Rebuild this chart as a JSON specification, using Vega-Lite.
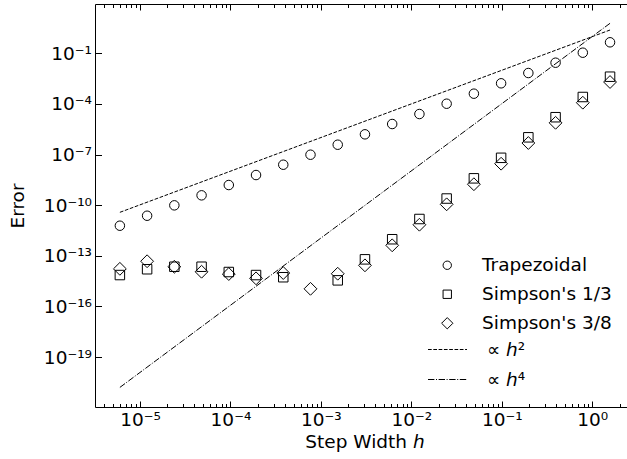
{
  "$schema": "https://vega.github.io/schema/vega-lite/v6.json",
  "width": 532,
  "height": 403,
  "autosize": {"type": "none"},
  "padding": {"left": 95, "top": 4, "right": 0, "bottom": 52},
  "background": "white",
  "config": {
    "font": "DejaVu Sans",
    "view": {"stroke": null},
    "axis": {
      "grid": false,
      "domainColor": "black",
      "domainWidth": 1,
      "tickColor": "black",
      "tickWidth": 1,
      "labelColor": "black",
      "labelFont": "DejaVu Sans",
      "labelFontSize": 18.5,
      "titleColor": "black",
      "titleFont": "DejaVu Sans",
      "titleFontSize": 18.5,
      "titleFontWeight": "normal",
      "labelFlush": false,
      "labelOverlap": false
    },
    "legend": {
      "labelFont": "DejaVu Sans",
      "labelFontSize": 18.5,
      "labelColor": "black",
      "padding": 0
    }
  },
  "layer": [
    {
      "data": {
        "values": [
          {"h": 1.570796, "err": 0.449, "method": "Trapezoidal"},
          {"h": 0.785398, "err": 0.1086, "method": "Trapezoidal"},
          {"h": 0.392699, "err": 0.0277, "method": "Trapezoidal"},
          {"h": 0.19635, "err": 0.00679, "method": "Trapezoidal"},
          {"h": 0.0981748, "err": 0.001667, "method": "Trapezoidal"},
          {"h": 0.0490874, "err": 0.000404, "method": "Trapezoidal"},
          {"h": 0.0245437, "err": 0.0001028, "method": "Trapezoidal"},
          {"h": 0.0122718, "err": 2.52e-5, "method": "Trapezoidal"},
          {"h": 0.00613592, "err": 6.44e-6, "method": "Trapezoidal"},
          {"h": 0.00306796, "err": 1.578e-6, "method": "Trapezoidal"},
          {"h": 0.00153398, "err": 3.82e-7, "method": "Trapezoidal"},
          {"h": 0.00076699, "err": 9.75e-8, "method": "Trapezoidal"},
          {"h": 0.000383495, "err": 2.49e-8, "method": "Trapezoidal"},
          {"h": 0.000191748, "err": 6.1e-9, "method": "Trapezoidal"},
          {"h": 9.58738e-5, "err": 1.56e-9, "method": "Trapezoidal"},
          {"h": 4.79369e-5, "err": 3.82e-10, "method": "Trapezoidal"},
          {"h": 2.39684e-5, "err": 9.75e-11, "method": "Trapezoidal"},
          {"h": 1.19842e-5, "err": 2.36e-11, "method": "Trapezoidal"},
          {"h": 5.99211e-6, "err": 6.04e-12, "method": "Trapezoidal"},
          {"h": 1.570796, "err": 0.0041, "method": "Simpson's 1/3"},
          {"h": 0.785398, "err": 0.000257, "method": "Simpson's 1/3"},
          {"h": 0.392699, "err": 1.63e-5, "method": "Simpson's 1/3"},
          {"h": 0.19635, "err": 1.05e-6, "method": "Simpson's 1/3"},
          {"h": 0.0981748, "err": 6.4e-8, "method": "Simpson's 1/3"},
          {"h": 0.0490874, "err": 3.89e-9, "method": "Simpson's 1/3"},
          {"h": 0.0245437, "err": 2.47e-10, "method": "Simpson's 1/3"},
          {"h": 0.0122718, "err": 1.51e-11, "method": "Simpson's 1/3"},
          {"h": 0.00613592, "err": 9.55e-13, "method": "Simpson's 1/3"},
          {"h": 0.00306796, "err": 6.15e-14, "method": "Simpson's 1/3"},
          {"h": 0.00153398, "err": 3.5e-15, "method": "Simpson's 1/3"},
          {"h": 0.000383495, "err": 5.35e-15, "method": "Simpson's 1/3"},
          {"h": 0.000191748, "err": 7.21e-15, "method": "Simpson's 1/3"},
          {"h": 9.58738e-5, "err": 1.09e-14, "method": "Simpson's 1/3"},
          {"h": 4.79369e-5, "err": 2.24e-14, "method": "Simpson's 1/3"},
          {"h": 2.39684e-5, "err": 2.24e-14, "method": "Simpson's 1/3"},
          {"h": 1.19842e-5, "err": 1.59e-14, "method": "Simpson's 1/3"},
          {"h": 5.99211e-6, "err": 7.21e-15, "method": "Simpson's 1/3"},
          {"h": 1.570796, "err": 0.00199, "method": "Simpson's 3/8"},
          {"h": 0.785398, "err": 0.000118, "method": "Simpson's 3/8"},
          {"h": 0.392699, "err": 7.59e-6, "method": "Simpson's 3/8"},
          {"h": 0.19635, "err": 4.82e-7, "method": "Simpson's 3/8"},
          {"h": 0.0981748, "err": 2.86e-8, "method": "Simpson's 3/8"},
          {"h": 0.0490874, "err": 1.74e-9, "method": "Simpson's 3/8"},
          {"h": 0.0245437, "err": 1.12e-10, "method": "Simpson's 3/8"},
          {"h": 0.0122718, "err": 6.92e-12, "method": "Simpson's 3/8"},
          {"h": 0.00613592, "err": 4.16e-13, "method": "Simpson's 3/8"},
          {"h": 0.00306796, "err": 2.71e-14, "method": "Simpson's 3/8"},
          {"h": 0.00153398, "err": 8.61e-15, "method": "Simpson's 3/8"},
          {"h": 0.00076699, "err": 1.1e-15, "method": "Simpson's 3/8"},
          {"h": 0.000383495, "err": 9.48e-15, "method": "Simpson's 3/8"},
          {"h": 0.000191748, "err": 4.6e-15, "method": "Simpson's 3/8"},
          {"h": 9.58738e-5, "err": 8.26e-15, "method": "Simpson's 3/8"},
          {"h": 4.79369e-5, "err": 1.13e-14, "method": "Simpson's 3/8"},
          {"h": 2.39684e-5, "err": 2.24e-14, "method": "Simpson's 3/8"},
          {"h": 1.19842e-5, "err": 4.74e-14, "method": "Simpson's 3/8"},
          {"h": 5.99211e-6, "err": 1.68e-14, "method": "Simpson's 3/8"}
        ]
      },
      "mark": {"type": "point", "filled": false, "stroke": "black", "strokeWidth": 1, "opacity": 1, "size": 90},
      "encoding": {
        "x": {
          "field": "h", "type": "quantitative",
          "scale": {"type": "log", "domain": [3.181e-6, 2.419], "nice": false},
          "axis": {
            "orient": "bottom",
            "title": "Step Width ℎ",
            "titleX": 269.5,
            "titlePadding": 1,
            "labelPadding": 9,
            "labelBaseline": "top",
            "values": [4e-6, 5e-6, 6e-6, 7e-6, 8e-6, 9e-6, 1e-5, 2e-5, 3e-5, 4e-5, 5e-5, 6e-5, 7e-5, 8e-5, 9e-5, 1e-4, 2e-4, 3e-4, 4e-4, 5e-4, 6e-4, 7e-4, 8e-4, 9e-4, 1e-3, 2e-3, 3e-3, 4e-3, 5e-3, 6e-3, 7e-3, 8e-3, 9e-3, 1e-2, 2e-2, 3e-2, 4e-2, 5e-2, 6e-2, 7e-2, 8e-2, 9e-2, 1e-1, 2e-1, 3e-1, 4e-1, 5e-1, 6e-1, 7e-1, 8e-1, 9e-1, 1, 2],
            "tickSize": {"condition": {"test": "abs(log(datum.value)/LN10 - round(log(datum.value)/LN10)) < 0.01", "value": -6}, "value": -3.5},
            "labelExpr": "abs(log(datum.value)/LN10 - round(log(datum.value)/LN10)) > 0.01 ? '' : '10' + (round(log(datum.value)/LN10) < 0 ? '⁻' : '') + (abs(round(log(datum.value)/LN10)) >= 10 ? substring('⁰¹²³⁴⁵⁶⁷⁸⁹', floor(abs(round(log(datum.value)/LN10))/10), floor(abs(round(log(datum.value)/LN10))/10) + 1) : '') + substring('⁰¹²³⁴⁵⁶⁷⁸⁹', abs(round(log(datum.value)/LN10)) % 10, abs(round(log(datum.value)/LN10)) % 10 + 1)"
          }
        },
        "y": {
          "field": "err", "type": "quantitative",
          "scale": {"type": "log", "domain": [1.089e-22, 83.56], "nice": false},
          "axis": {
            "orient": "left",
            "title": "Error",
            "titlePadding": 16,
            "labelPadding": 10,
            "tickSize": -6.5,
            "values": [1e-19, 1e-16, 1e-13, 1e-10, 1e-7, 1e-4, 1e-1],
            "labelExpr": "'10' + (round(log(datum.value)/LN10) < 0 ? '⁻' : '') + (abs(round(log(datum.value)/LN10)) >= 10 ? substring('⁰¹²³⁴⁵⁶⁷⁸⁹', floor(abs(round(log(datum.value)/LN10))/10), floor(abs(round(log(datum.value)/LN10))/10) + 1) : '') + substring('⁰¹²³⁴⁵⁶⁷⁸⁹', abs(round(log(datum.value)/LN10)) % 10, abs(round(log(datum.value)/LN10)) % 10 + 1)"
          }
        },
        "shape": {
          "field": "method", "type": "nominal",
          "scale": {"domain": ["Trapezoidal", "Simpson's 1/3", "Simpson's 3/8"], "range": ["circle", "square", "M-1.35,0L0,-1.35L1.35,0L0,1.35Z"]},
          "legend": {
            "title": null,
            "orient": "none",
            "legendX": 343,
            "legendY": 252,
            "symbolSize": 70,
            "symbolStrokeColor": "black",
            "symbolStrokeWidth": 1,
            "symbolFillColor": "transparent",
            "labelOffset": 25.5,
            "rowPadding": 10
          }
        }
      }
    },
    {
      "data": {
        "values": [
          {"h": 5.99211e-6, "err": 3.76e-11, "ref": "∝ ℎ²"},
          {"h": 1.570796, "err": 2.4, "ref": "∝ ℎ²"},
          {"h": 5.99211e-6, "err": 1.58e-21, "ref": "∝ ℎ⁴"},
          {"h": 1.570796, "err": 6.0, "ref": "∝ ℎ⁴"}
        ]
      },
      "mark": {"type": "line", "color": "black", "strokeWidth": 1},
      "encoding": {
        "x": {
          "field": "h", "type": "quantitative",
          "scale": {"type": "log", "domain": [3.181e-6, 2.419], "nice": false},
          "axis": {
            "orient": "top",
            "title": null,
            "labels": false,
            "values": [4e-6, 5e-6, 6e-6, 7e-6, 8e-6, 9e-6, 1e-5, 2e-5, 3e-5, 4e-5, 5e-5, 6e-5, 7e-5, 8e-5, 9e-5, 1e-4, 2e-4, 3e-4, 4e-4, 5e-4, 6e-4, 7e-4, 8e-4, 9e-4, 1e-3, 2e-3, 3e-3, 4e-3, 5e-3, 6e-3, 7e-3, 8e-3, 9e-3, 1e-2, 2e-2, 3e-2, 4e-2, 5e-2, 6e-2, 7e-2, 8e-2, 9e-2, 1e-1, 2e-1, 3e-1, 4e-1, 5e-1, 6e-1, 7e-1, 8e-1, 9e-1, 1, 2],
            "tickSize": {"condition": {"test": "abs(log(datum.value)/LN10 - round(log(datum.value)/LN10)) < 0.01", "value": -6}, "value": -3.5}
          }
        },
        "y": {
          "field": "err", "type": "quantitative",
          "scale": {"type": "log", "domain": [1.089e-22, 83.56], "nice": false},
          "axis": {
            "orient": "left",
            "title": "Error",
            "titlePadding": 16,
            "labelPadding": 10,
            "tickSize": -6.5,
            "values": [1e-19, 1e-16, 1e-13, 1e-10, 1e-7, 1e-4, 1e-1],
            "labelExpr": "'10' + (round(log(datum.value)/LN10) < 0 ? '⁻' : '') + (abs(round(log(datum.value)/LN10)) >= 10 ? substring('⁰¹²³⁴⁵⁶⁷⁸⁹', floor(abs(round(log(datum.value)/LN10))/10), floor(abs(round(log(datum.value)/LN10))/10) + 1) : '') + substring('⁰¹²³⁴⁵⁶⁷⁸⁹', abs(round(log(datum.value)/LN10)) % 10, abs(round(log(datum.value)/LN10)) % 10 + 1)"
          }
        },
        "strokeDash": {
          "field": "ref", "type": "nominal",
          "scale": {"domain": ["∝ ℎ²", "∝ ℎ⁴"], "range": [[3.7, 1.6], [6.4, 1.6, 1, 1.6]]},
          "legend": {
            "title": null,
            "orient": "none",
            "legendX": 342,
            "legendY": 335,
            "symbolType": "M-2,0H2",
            "symbolSize": 380,
            "symbolStrokeColor": "black",
            "symbolStrokeWidth": 1,
            "labelOffset": 29,
            "rowPadding": 10
          }
        }
      }
    }
  ],
  "resolve": {"axis": {"x": "independent"}}
}
